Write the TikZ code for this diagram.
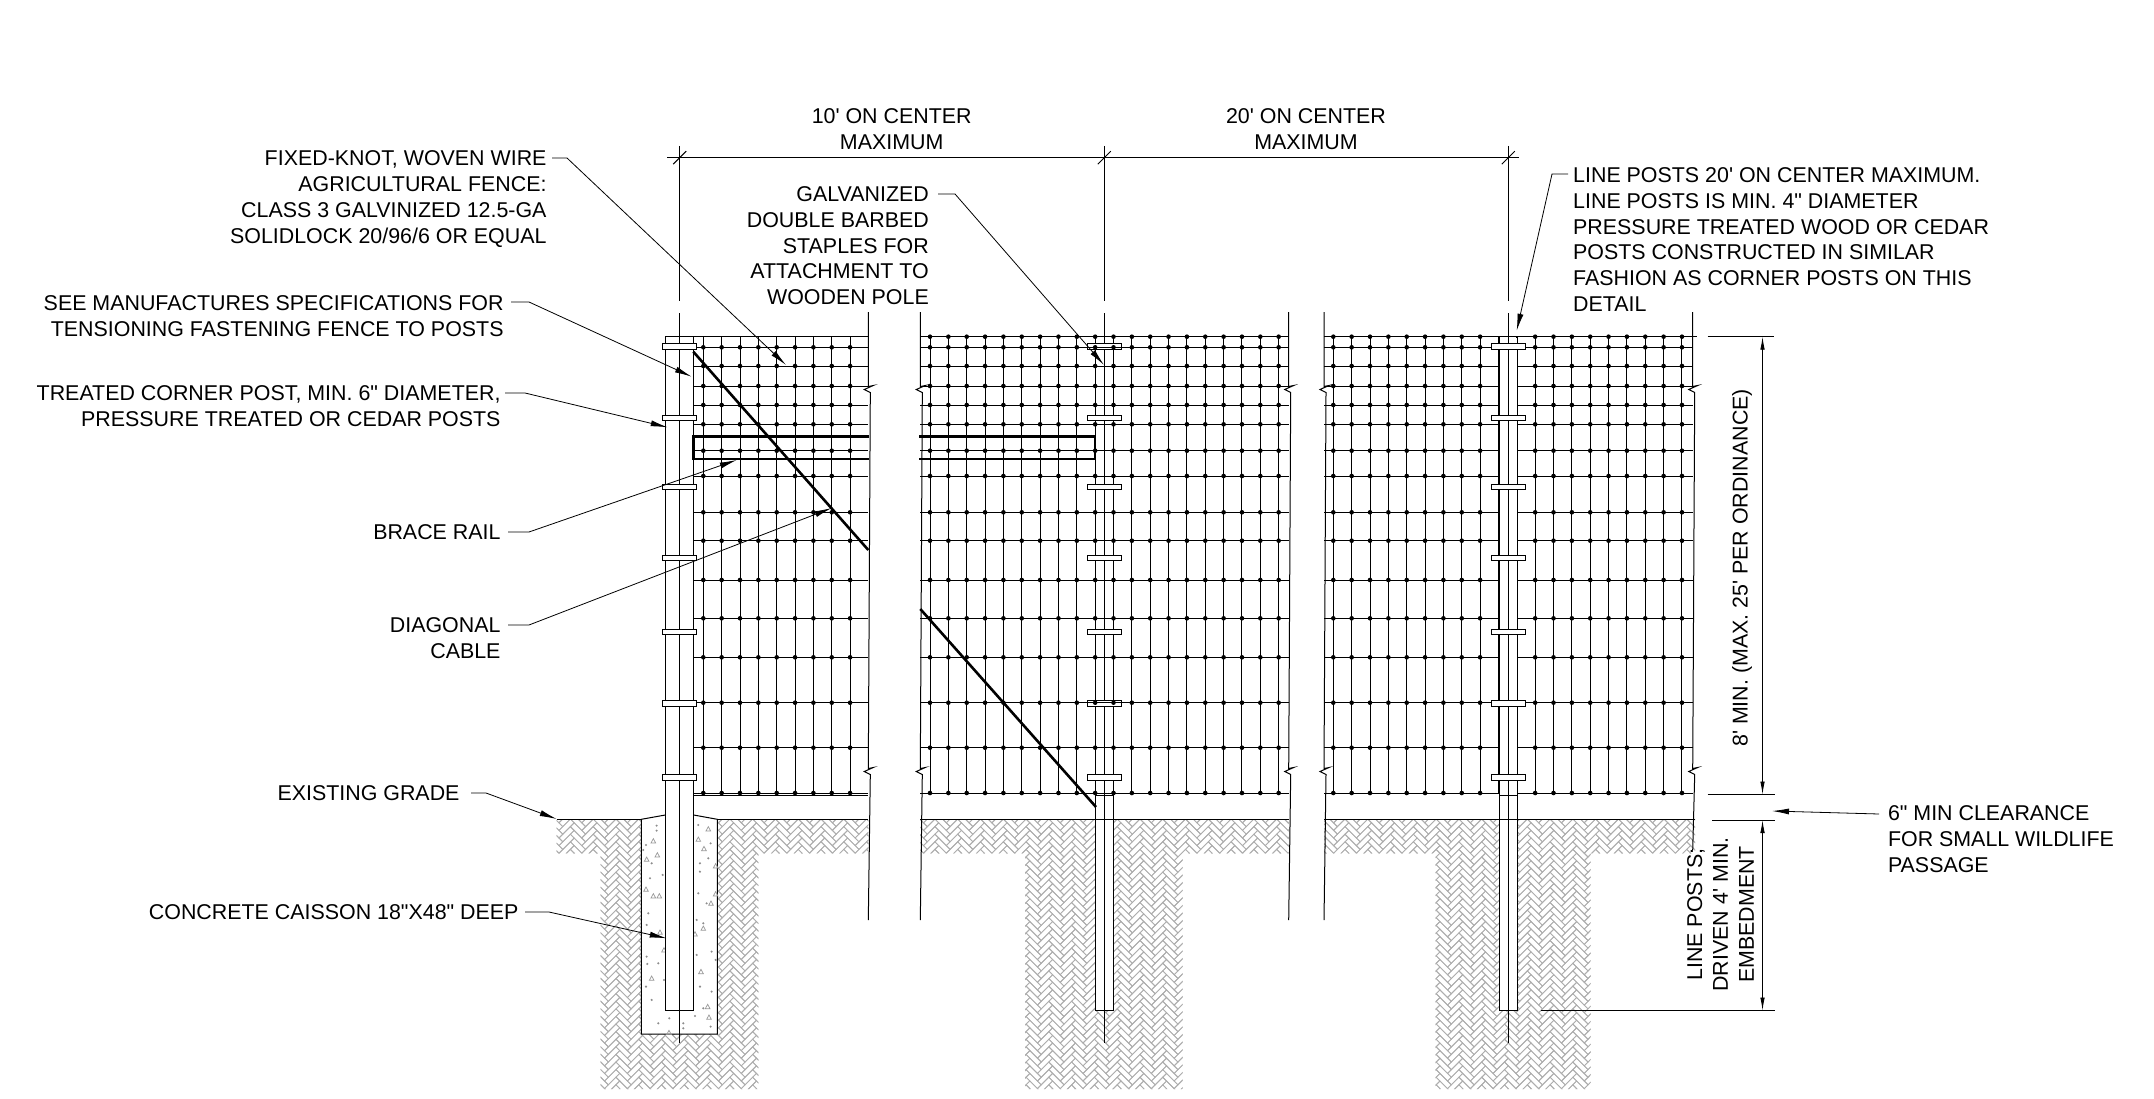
\documentclass[tikz,border=0pt]{standalone}
\usepackage{fontspec}
\setmainfont{Liberation Sans}[Ligatures=TeXOff]
\usetikzlibrary{arrows.meta, positioning}

\begin{document}
\begin{tikzpicture}[x=1pt,y=-1pt,line width=1pt]
    \tikzstyle{noteR}=[align=right,anchor=north east,inner sep=0pt,font=\fontsize{21.4}{25.8}\selectfont]
    \tikzstyle{noteL}=[align=left,anchor=north west,inner sep=0pt,font=\fontsize{21.4}{25.8}\selectfont]
    \tikzstyle{noteC}=[align=center,inner sep=0pt,font=\fontsize{21.4}{25.8}\selectfont]
    \tikzstyle{leader}=[draw,line width=0.8pt,-{Latex[length=17pt,width=6pt]}]
    \tikzstyle{dimline}=[draw,line width=0.8pt,{Latex[length=13pt,width=4.5pt]}-{Latex[length=13pt,width=4.5pt]}]
    \tikzstyle{brick}=[draw=black!32,line width=0.8pt]
    \tikzstyle{rail}=[draw,line width=2.6pt]
    \tikzstyle{cable}=[draw,line width=2.6pt]
    \tikzstyle{staple}=[draw,fill=white,line width=1.1pt]
    \def\wirerows{347.3,366,386,405,424.3,450.7,476,512.3,540.7,580,618.3,657.3,702.7,747.7,793}
    \def\staplerows{346.5,418,487,558,632,703.5,777.5}

    \useasboundingbox (0,0) rectangle (2154,1099);

    % soil
    \begin{scope}
    \clip (556.7,819.3) rectangle (868.3,853.3) (600.7,853.3) rectangle (758.3,1089)
          (920.3,819.3) rectangle (1288.7,853.3) (1025,853.3) rectangle (1182.7,1089)
          (1324,819.3) rectangle (1695,853.3) (1435.5,853.3) rectangle (1590.7,1089);
    \begin{scope}[shift={(540,1100)},rotate=45,x=5.37pt,y=5.37pt]
    \foreach \i in {-2,...,40} \foreach \j in {-1,...,53}
        \path[brick] ({\i+3*\j},{\i-3*\j}) rectangle +(3,1) ({\i+3*\j+5},{\i-3*\j}) rectangle +(1,3);
    \end{scope}
    \end{scope}

    % caisson
    \draw[fill=white] (641.3,1034) -- (641.3,819.3) -- (665.3,815) -- (693.7,815) -- (717.3,819.3) -- (717.3,1034) -- cycle;
    \begin{scope}[shift={(540,760)},x=0.3333pt,y=-0.3333pt,draw=black!40,line width=0.7pt]
    \foreach \a/\b in {340/243,505/207,492/266,320/298,352/285,527/318,318/388,358/408,340/408,527/402,513/430,490/505,465/522,360/517,372/570,335/655,483/635,503/740,507/772,387/818,475/238}
        \draw (\a,\b-7) -- (\a+7,\b+6) -- (\a-7,\b+6) -- cycle;
    \foreach \a/\b in {350/197,350/212,318/255,310/270,335/310,330/355,368/345,475/195,512/250,480/310,505/295,480/335,475/400,500/430,470/480,490/490,515/575,470/585,527/600,320/495,320/590,322/612,355/610,318/680,335/720,372/660,480/680,515/695,490/745,388/775,355/790,430/805,465/768,430/790,512/800,325/460}
        \fill[black!45] (\a,\b) circle (3.5);
    \end{scope}

    % posts and ground
    \path[draw,fill=white] (1095,795) rectangle (1113.7,1010);
    \path[draw,fill=white] (1499,795) rectangle (1517.3,1010);
    \path[draw,fill=white] (665.3,336.7) rectangle (693.7,1010);
    \draw (556.7,819.3) -- (641.3,819.3) (717.3,819.3) -- (868.3,819.3);
    \draw (920.3,819.3) -- (1288.7,819.3);
    \draw (1324,819.3) -- (1695,819.3);

    % fence panels
    \foreach \k in {0,...,8} \draw ({703.3+18.35*\k},336.7) -- ({703.3+18.35*\k},793);
    \foreach \k in {0,...,19} {
        \draw ({930+18.35*\k},336.7) -- ({930+18.35*\k},793);
        \draw ({1333.3+18.35*\k},336.7) -- ({1333.3+18.35*\k},793);
    }
    \draw (665.3,336.7) -- (868.3,336.7) (920.3,336.7) -- (1288.7,336.7) (1324,336.7) -- (1696.7,336.7);
    \draw (693.7,795) -- (868.3,795);
    \draw (1104.3,146) -- (1104.3,301) (1104.3,313) -- (1104.3,1043);

    % staples on the line post
    \foreach \r in \staplerows \path[staple] (1087.3,\r-2.8) rectangle (1121.3,\r+2.8);

    \foreach \r in \wirerows {
        \draw (693.7,\r) -- (868.3,\r) (920.3,\r) -- (1288.7,\r) (1324,\r) -- (1692.7,\r);
        \foreach \k in {0,...,8} \fill ({703.3+18.35*\k},\r) circle (2.3);
        \foreach \k in {0,...,19} \fill ({930+18.35*\k},\r) circle (2.3);
        \foreach \k in {0,...,8,11,12,...,19} \fill ({1333.3+18.35*\k},\r) circle (2.3);
    }
    \foreach \k in {0,...,19} \fill ({930+18.35*\k},336.7) circle (2.3);
    \foreach \k in {0,...,8,11,12,...,19} \fill ({1333.3+18.35*\k},336.7) circle (2.3);

    % third post sits in front of the wire
    \path[fill=white] (1498.5,338) rectangle (1517.8,794.5);
    \draw (1499,336.7) -- (1499,795) (1517.3,336.7) -- (1517.3,795);

    % centre lines
    \draw (679.7,146) -- (679.7,301) (679.7,313) -- (679.7,1043);
    \draw (1508.3,146) -- (1508.3,301) (1508.3,313) -- (1508.3,1043);
    \foreach \r in \staplerows {
        \path[staple] (662.7,\r-2.8) rectangle (696.7,\r+2.8);
        \path[staple] (1491.3,\r-2.8) rectangle (1525.3,\r+2.8);
    }

    % panel breaks
    \foreach \e/\b in {868.3/920,920.3/920,1288.7/920,1324/920,1692.7/850}
        \draw (\e,312) -- (\e,386.5) -- ++(5,-1) -- ++(-9,4) -- ++(6,3) -- (\e,768.5) -- ++(5,-1) -- ++(-9,4) -- ++(6,3) -- (\e,\b);

    % brace rail and diagonal cable
    \path[rail] (869,436.7) -- (693.7,436.7) -- (693.7,459) -- (869,459);
    \path[rail] (919.3,436.7) -- (1095,436.7) -- (1095,459) -- (919.3,459);
    \path[cable] (693.3,351.7) -- (868.3,550);
    \path[cable] (920.3,609) -- (1096,807);

    % dimensions
    \coordinate (D1) at (679.7,157.7);
    \coordinate (D2) at (1104.3,157.7);
    \coordinate (D3) at (1508.3,157.7);
    \draw (667,157.7) -- (1519,157.7);
    \foreach \d in {D1,D2,D3} \draw (\d) +(-6.5,6.5) -- +(6.5,-6.5);
    \node[noteC] (C1) at (891.7,129.5) {10' ON CENTER\\MAXIMUM};
    \node[noteC] (C2) at (1306,129.5) {20' ON CENTER\\MAXIMUM};

    \coordinate (H1) at (1762.5,336.7);
    \coordinate (H2) at (1762.5,794.5);
    \coordinate (H3) at (1762.5,820);
    \coordinate (H4) at (1762.5,1010.5);
    \draw[line width=0.8pt] (1707.7,336.7) -- (1774,336.7) (1707.5,794.5) -- (1775,794.5) (1712,820) -- (1775,820) (1541,1010.5) -- (1775,1010.5);
    \path[dimline] (H1) -- (H2);
    \path[dimline] (H3) -- (H4);
    \node[noteC,rotate=90] (V1) at (1742,568) {8' MIN. (MAX. 25' PER ORDINANCE)};
    \node[noteC,rotate=90] (V2) at (1720.5,914.5) {LINE POSTS;\\DRIVEN 4' MIN.\\EMBEDMENT};

    % notes
    \node[noteR] (L1) at (547,150.5) {FIXED-KNOT, WOVEN WIRE\\AGRICULTURAL FENCE:\\CLASS 3 GALVINIZED 12.5-GA\\SOLIDLOCK 20/96/6 OR EQUAL};
    \node[noteR] (L2) at (929.3,186) {GALVANIZED\\DOUBLE BARBED\\STAPLES FOR\\ATTACHMENT TO\\WOODEN POLE};
    \node[noteR] (L3) at (504,295.5) {SEE MANUFACTURES SPECIFICATIONS FOR\\TENSIONING FASTENING FENCE TO POSTS};
    \node[noteR] (L4) at (501,385.5) {TREATED CORNER POST, MIN. 6" DIAMETER,\\PRESSURE TREATED OR CEDAR POSTS};
    \node[noteR] (L5) at (501,524.5) {BRACE RAIL};
    \node[noteR] (L6) at (501,617.5) {DIAGONAL\\CABLE};
    \node[noteR] (L7) at (460,785.5) {EXISTING GRADE};
    \node[noteR] (L8) at (519,904.5) {CONCRETE CAISSON 18"X48" DEEP};
    \node[noteL] (R1) at (1572.7,167) {LINE POSTS 20' ON CENTER MAXIMUM.\\LINE POSTS IS MIN. 4" DIAMETER\\PRESSURE TREATED WOOD OR CEDAR\\POSTS CONSTRUCTED IN SIMILAR\\FASHION AS CORNER POSTS ON THIS\\DETAIL};
    \node[noteL] (R2) at (1887.5,805.5) {6" MIN CLEARANCE\\FOR SMALL WILDLIFE\\PASSAGE};

    \path[leader] (552,158) -- (567,158) -- (786,365);
    \path[leader] (938,194) -- (955,194) -- (1104,365);
    \path[leader] (511,302) -- (529,302) -- (691.7,376.7);
    \path[leader] (505,393) -- (525,393) -- (667.7,427.3);
    \path[leader] (508,532) -- (529,532) -- (736.7,460);
    \path[leader] (508,625) -- (529,625) -- (831.7,508);
    \path[leader] (471,793) -- (486,793) -- (556.7,819);
    \path[leader] (525,912) -- (549,912) -- (666.7,938.3);
    \path[leader] (1568,174) -- (1552,174) -- (1516.7,330.7);
    \path[leader] (1879,814) -- (1772,811);
\end{tikzpicture}
\end{document}
